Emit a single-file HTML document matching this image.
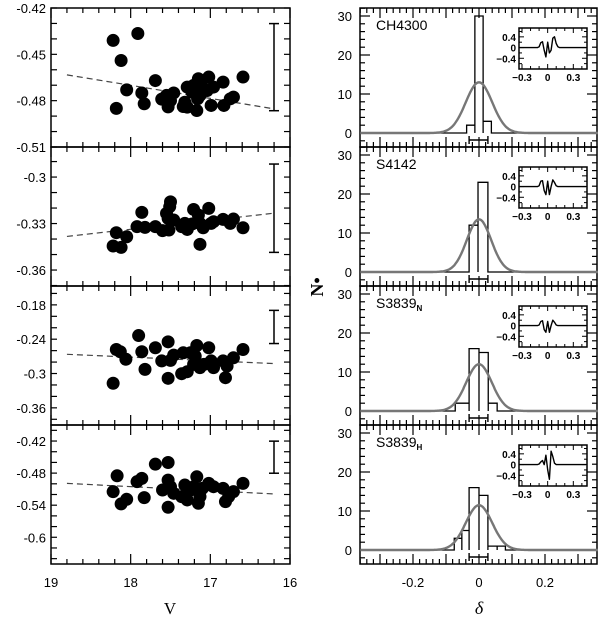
<!DOCTYPE html>
<html><head><meta charset="utf-8"><style>
html,body{margin:0;padding:0;background:#fff;}
svg{display:block;font-family:"Liberation Sans",sans-serif;}
</style></head><body>
<svg id="fig" width="600" height="622" viewBox="0 0 600 622" xmlns="http://www.w3.org/2000/svg"></svg>
<script>
// ---------- data ----------
const p1V=[18.22,17.91,18.12,18.18,18.05,17.86,17.83,17.69,17.61,17.53,17.55,17.46,17.50,17.34,17.29,17.32,17.29,17.21,17.15,17.13,17.17,17.16,17.10,17.02,16.96,16.84,16.99,16.83,16.75,16.71,16.59,17.04,17.23];
const p1Y=[-0.441,-0.4365,-0.454,-0.485,-0.473,-0.475,-0.482,-0.467,-0.479,-0.484,-0.4766,-0.475,-0.480,-0.4838,-0.4842,-0.481,-0.4712,-0.4701,-0.4658,-0.4766,-0.4864,-0.4788,-0.4712,-0.4647,-0.4712,-0.468,-0.4831,-0.4831,-0.4788,-0.4777,-0.4647,-0.4734,-0.4745];
const p2V=[18.22,18.18,18.12,18.05,17.86,17.92,17.82,17.69,17.60,17.52,17.55,17.51,17.53,17.46,17.36,17.29,17.32,17.21,17.15,17.13,17.13,17.09,17.02,16.96,16.84,16.99,16.75,16.71,16.59,17.23,17.50];
const p2Y=[-0.3445,-0.3359,-0.3454,-0.3385,-0.3228,-0.332,-0.3325,-0.332,-0.3346,-0.3342,-0.3234,-0.3191,-0.3267,-0.3277,-0.332,-0.3338,-0.3299,-0.3209,-0.3245,-0.3434,-0.3299,-0.3327,-0.3202,-0.3288,-0.3273,-0.3299,-0.3299,-0.3271,-0.3327,-0.3303,-0.316];
const p3V=[18.22,18.18,18.13,18.06,17.90,17.86,17.82,17.69,17.61,17.53,17.53,17.50,17.46,17.36,17.34,17.29,17.25,17.21,17.17,17.15,17.13,17.08,17.02,16.99,16.96,16.84,16.81,16.79,16.71,16.59,17.19];
const p3Y=[-0.317,-0.258,-0.262,-0.275,-0.2336,-0.262,-0.2927,-0.255,-0.278,-0.2446,-0.3084,-0.277,-0.2678,-0.3003,-0.2638,-0.2968,-0.2638,-0.284,-0.251,-0.284,-0.2898,-0.284,-0.255,-0.278,-0.2898,-0.278,-0.3073,-0.287,-0.2725,-0.258,-0.2696];
const p4V=[18.22,18.17,18.12,18.05,17.92,17.86,17.83,17.69,17.53,17.60,17.53,17.50,17.46,17.36,17.32,17.29,17.25,17.17,17.15,17.13,17.10,17.02,16.96,16.84,16.81,16.77,16.71,16.59,17.21,17.53];
const p4Y=[-0.5147,-0.485,-0.5376,-0.529,-0.496,-0.4899,-0.5259,-0.4633,-0.4602,-0.5116,-0.493,-0.5054,-0.5178,-0.524,-0.5023,-0.5302,-0.5116,-0.4869,-0.5364,-0.524,-0.5085,-0.4992,-0.5054,-0.5085,-0.5333,-0.524,-0.5147,-0.4992,-0.5054,-0.5438];
const fitV=[18.8,16.2];
const fitY=[[-0.4633,-0.4853],[-0.3383,-0.3233],[-0.2664,-0.2826],[-0.4992,-0.519]];
const errLo=[-0.4865,-0.3486,-0.2476,-0.4802];
const errHi=[-0.4301,-0.2916,-0.1896,-0.4202];
const yTicks=[[-0.42,-0.45,-0.48,-0.51],[-0.3,-0.33,-0.36],[-0.18,-0.24,-0.3,-0.36],[-0.42,-0.48,-0.54,-0.6]];
const yTickLabels=[["-0.42","-0.45","-0.48","-0.51"],["-0.3","-0.33","-0.36"],["-0.18","-0.24","-0.3","-0.36"],["-0.42","-0.48","-0.54","-0.6"]];
const xTicks=[19,18,17,16];
const xTickLabels=["19","18","17","16"];
const histNames=["CH4300","S4142","S3839","S3839"];
const histSubs=["","","N","H"];
const histEdges=[[-0.0375,-0.0125,0.0125,0.0375],[-0.03,-0.003,0.027],[-0.072,-0.03,0,0.028,0.055],[-0.075,-0.052,-0.03,0,0.027,0.055,0.08]];
const histCounts=[[2,30,3],[12,23],[2,16,15,2],[3,5,16,14,1,1]];
const gaussPeak=[13,13.5,12,11.5];
const gaussSigma=[0.04,0.037,0.039,0.04];
const resX=[-0.35,-0.12,-0.1,-0.08,-0.06,-0.04,-0.02,0,0.02,0.04,0.06,0.08,0.1,0.12,0.14,0.45];
const resY=[[0,0,0.03,0.18,0.22,-0.1,-0.35,0.2,-0.2,-0.1,0.35,0.4,0.15,0.03,0,0],
            [0,0,0.03,0.2,0.22,-0.15,-0.3,0.2,-0.3,0.0,0.25,0.15,0.03,0,0,0],
            [0,0,0.02,0.15,0.18,-0.15,-0.25,0.15,-0.25,0.0,0.2,0.12,0.02,0,0,0],
            [0,0,0.02,0.1,0.15,0.0,0.35,-0.2,-0.55,0.5,0.3,0.05,0,0,0,0]];
const dTicks=[-0.2,0,0.2];
const dTickLabels=["-0.2","0","0.2"];
// ---------- helpers ----------
const S=document.getElementById('fig'),NS='http://www.w3.org/2000/svg';
function mk(tag,at,parent){const e=document.createElementNS(NS,tag);for(const k in at)e.setAttribute(k,at[k]);(parent||S).appendChild(e);return e;}
const panelTop=[8,147,286,425],panelH=139;
const LX0=51,LX1=290;
const vx=v=>LX0+(19-v)/3*(LX1-LX0);
const yRanges=[[-0.42,-0.51],[-0.2806,-0.3703],[-0.147,-0.39],[-0.390,-0.650]];
// ---------- left panels ----------
const lp=[[p1V,p1Y],[p2V,p2Y],[p3V,p3Y],[p4V,p4Y]];
for(let i=0;i<4;i++){
  const t=panelTop[i],b=t+panelH,r=yRanges[i];
  const sy=v=>t+(r[0]-v)/(r[0]-r[1])*panelH;
  const g=mk('g',{});
  
  
  const fr=mk('rect',{x:LX0,y:t,width:LX1-LX0,height:panelH,fill:'none',stroke:'#000','stroke-width':1.5},g);
  
  
  for(let k=0;k<=15;k++){const v=19-k*0.2,x=vx(v),maj=Math.abs(v-Math.round(v))<1e-6,L=maj?10:5;
    mk('line',{x1:x,y1:b,x2:x,y2:b-L,stroke:'#000','stroke-width':1.2},g);
    mk('line',{x1:x,y1:t,x2:x,y2:t+L,stroke:'#000','stroke-width':1.2},g);}
  const st=(i<2)?0.01:0.02;
  for(let v=Math.ceil(r[1]/st)*st;v<=r[0]+1e-9;v+=st){const y=sy(v);
    mk('line',{x1:LX0,y1:y,x2:LX0+6,y2:y,stroke:'#000','stroke-width':1.2},g);
    mk('line',{x1:LX1,y1:y,x2:LX1-6,y2:y,stroke:'#000','stroke-width':1.2},g);}
  yTicks[i].forEach((v,j)=>{const tx=mk('text',{x:LX0-5,y:sy(v)+5,'text-anchor':'end','font-size':13},g);tx.textContent=yTickLabels[i][j];
    });
  const fl=mk('line',{x1:vx(fitV[0]),y1:sy(fitY[i][0]),x2:vx(fitV[1]),y2:sy(fitY[i][1]),stroke:'#444','stroke-width':1.2,'stroke-dasharray':'6,4'},g);
  
  const [V,Y]=lp[i];
  for(let j=0;j<V.length;j++){const c=mk('circle',{cx:vx(V[j]),cy:sy(Y[j]),r:6.5,fill:'#000'},g);
    }
  const ex=274,y1=sy(errHi[i]),y2=sy(errLo[i]);
  const eg=mk('g',{stroke:'#000','stroke-width':1.5},g);
  
  mk('line',{x1:ex,y1:y1,x2:ex,y2:y2},eg);mk('line',{x1:ex-5,y1:y1,x2:ex+5,y2:y1},eg);mk('line',{x1:ex-5,y1:y2,x2:ex+5,y2:y2},eg);
}
xTicks.forEach((v,j)=>{const tx=mk('text',{x:vx(v),y:587,'text-anchor':'middle','font-size':13});tx.textContent=xTickLabels[j];
  });
const vl=mk('text',{x:170,y:614,'text-anchor':'middle','font-size':17,'font-family':'Liberation Serif, serif'});vl.textContent='V';

// ---------- right panels ----------
const RX0=360,RX1=597;
const dx=d=>479+d*330;
for(let i=0;i<4;i++){
  const t=panelTop[i],b=t+panelH;
  const ny=n=>t+125-n*3.9;
  const g=mk('g',{});
  
  
  const fr=mk('rect',{x:RX0,y:t,width:RX1-RX0,height:panelH,fill:'none',stroke:'#000','stroke-width':1.5},g);
  
  for(let k=-18;k<=18;k++){const d=k*0.02,x=dx(d);if(x<RX0||x>RX1)continue;const maj=k%5===0,L=maj?10:5;
    mk('line',{x1:x,y1:b,x2:x,y2:b-L,stroke:'#000','stroke-width':1.2},g);
    mk('line',{x1:x,y1:t,x2:x,y2:t+L,stroke:'#000','stroke-width':1.2},g);}
  for(let n=-2;n<=32;n+=2){const y=ny(n);if(y<t||y>b)continue;const L=(n%10===0)?10:5;
    mk('line',{x1:RX0,y1:y,x2:RX0+L,y2:y,stroke:'#000','stroke-width':1.2},g);
    mk('line',{x1:RX1,y1:y,x2:RX1-L,y2:y,stroke:'#000','stroke-width':1.2},g);}
  [0,10,20,30].forEach(n=>{const tx=mk('text',{x:RX0-8,y:ny(n)+5,'text-anchor':'end','font-size':13},g);tx.textContent=String(n);
    });
  const e=histEdges[i],c=histCounts[i];
  let d='M'+RX0+','+ny(0)+' L'+dx(e[0])+','+ny(0);
  for(let k=0;k<c.length;k++){d+=' L'+dx(e[k])+','+ny(c[k])+' L'+dx(e[k+1])+','+ny(c[k]);}
  d+=' L'+dx(e[e.length-1])+','+ny(0)+' L'+RX1+','+ny(0);
  for(let k=1;k<c.length;k++){d+=' M'+dx(e[k])+','+ny(0)+' L'+dx(e[k])+','+ny(Math.max(c[k-1],c[k]));}
  const hp=mk('path',{d,fill:'none',stroke:'#000','stroke-width':1.3},g);
  
  let gd='';for(let k=0;k<=240;k++){const dd=-0.36+k*0.003;const n=gaussPeak[i]*Math.exp(-dd*dd/(2*gaussSigma[i]*gaussSigma[i]));gd+=(k?' L':'M')+dx(dd).toFixed(1)+','+ny(n).toFixed(1);}
  const gp=mk('path',{d:gd,fill:'none',stroke:'#777','stroke-width':2.4},g);
  
  const ey=t+132,eb=mk('g',{stroke:'#000','stroke-width':1.4},g);
  
  mk('line',{x1:dx(-0.03),y1:ey,x2:dx(0.027),y2:ey},eb);mk('line',{x1:dx(-0.03),y1:ey-4,x2:dx(-0.03),y2:ey+4},eb);mk('line',{x1:dx(0.027),y1:ey-4,x2:dx(0.027),y2:ey+4},eb);
  const lb=mk('text',{x:376,y:t+22,'font-size':14},g);lb.textContent=histNames[i];
  if(histSubs[i]){const ts=mk('tspan',{'font-size':8,dy:3,'font-weight':'bold'},lb);ts.textContent=histSubs[i];}
  
  const ix0=519,ix1=587,iy0=t+20,iy1=t+61;
  const ixf=x=>ix0+(x+0.335)/(0.795)*(ix1-ix0), iyf=y=>iy0+(0.73-y)/1.53*(iy1-iy0);
  const ig=mk('g',{},g);
  mk('rect',{x:ix0,y:iy0,width:ix1-ix0,height:iy1-iy0,fill:'#fff',stroke:'#000','stroke-width':1.5},ig);
  for(let k=-3;k<=4;k++){const x=ixf(k*0.1),L=(k%3===0)?5:3;mk('line',{x1:x,y1:iy1,x2:x,y2:iy1-L,stroke:'#000'},ig);mk('line',{x1:x,y1:iy0,x2:x,y2:iy0+L,stroke:'#000'},ig);}
  for(let k=-4;k<=3;k++){const y=iyf(k*0.2),L=(k%2===0)?5:3;mk('line',{x1:ix0,y1:y,x2:ix0+L,y2:y,stroke:'#000'},ig);mk('line',{x1:ix1,y1:y,x2:ix1-L,y2:y,stroke:'#000'},ig);}
  let rd='';for(let k=0;k<resX.length;k++){const xx=Math.min(Math.max(resX[k],-0.335),0.46);rd+=(k?' L':'M')+ixf(xx).toFixed(1)+','+iyf(resY[i][k]).toFixed(1);}
  mk('path',{d:rd,fill:'none',stroke:'#000','stroke-width':1.4,'stroke-linejoin':'round'},ig);
  [['0.4',0.4],['0',0],['\u22120.4',-0.4]].forEach(a=>{const tx=mk('text',{x:ix0-3,y:iyf(a[1])+4,'text-anchor':'end','font-size':10,'font-weight':'bold'},ig);tx.textContent=a[0];});
  [['\u22120.3',-0.3],['0',0],['0.3',0.3]].forEach(a=>{const tx=mk('text',{x:ixf(a[1]),y:iy1+12,'text-anchor':'middle','font-size':10,'font-weight':'bold'},ig);tx.textContent=a[0];});
}
dTicks.forEach((v,j)=>{const tx=mk('text',{x:dx(v),y:587,'text-anchor':'middle','font-size':13});tx.textContent=dTickLabels[j];
  });
const dl=mk('text',{x:479,y:614,'text-anchor':'middle','font-size':18,'font-style':'italic','font-family':'Liberation Serif, serif'});dl.textContent='\u03b4';

const nl=mk('text',{x:0,y:0,'text-anchor':'middle','font-size':18,'font-weight':'bold','font-family':'Liberation Serif, serif',transform:'translate(323,287) rotate(-90)'});nl.textContent='N\u2022';

</script>
</body></html>
